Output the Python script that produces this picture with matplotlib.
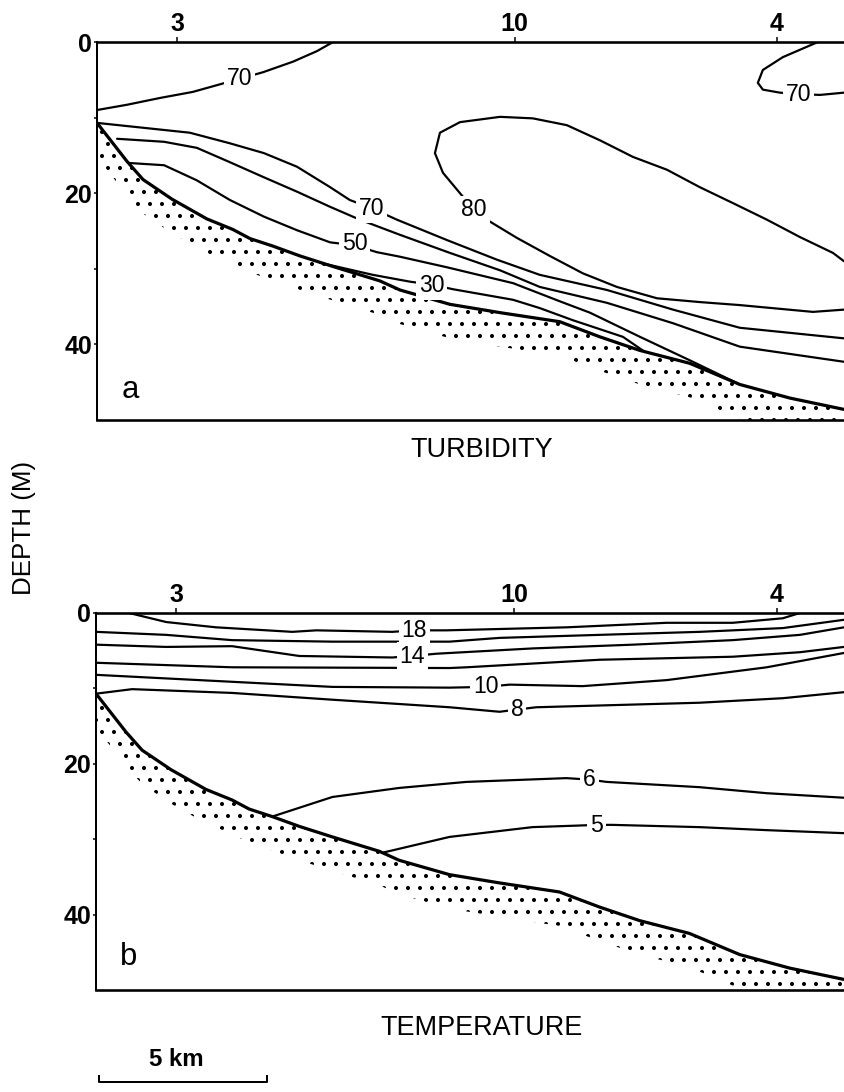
import matplotlib
matplotlib.use("Agg")
import matplotlib.pyplot as plt
import matplotlib.transforms as mtransforms

plt.rcParams['font.family'] = ['Liberation Sans', 'DejaVu Sans']
plt.rcParams['hatch.linewidth'] = 1.6
plt.rcParams['hatch.color'] = 'black'

# ---------------------------------------------------------------------------
# Section geometry: distance along the transect (km) and depth (m)
# ---------------------------------------------------------------------------
section_length_km = 22.37
depth_max_m = 50

station_km = [2.40, 12.51, 20.36]
station_labels = ["3", "10", "4"]

depth_ticks = [0, 20, 40]
depth_minor = [10, 30]

# sea-bed profile shared by both sections
seabed_km = [0.0, 0.90, 1.38, 2.25, 3.29, 4.07, 4.58, 5.27, 6.08, 7.07, 8.47,
             9.07, 10.57, 12.07, 13.86, 15.06, 16.26, 17.75, 19.25, 20.75, 22.37]
seabed_m = [10.7, 15.8, 18.2, 20.8, 23.4, 24.8, 26.0, 27.0, 28.3, 29.7, 31.6,
            32.8, 34.7, 35.8, 37.0, 39.0, 40.8, 42.5, 45.3, 47.1, 48.6]

# ---------------------------------------------------------------------------
# Turbidity (% transmission) isolines
# ---------------------------------------------------------------------------
turb70_surface_km = [0.0, 0.90, 1.89, 2.87, 3.68, 4.97, 5.87, 6.59, 7.07]
turb70_surface_m = [9.0, 8.3, 7.4, 6.6, 5.6, 4.0, 2.6, 1.2, 0.0]

turb70_east_km = [21.59, 20.54, 19.94, 19.79, 19.94, 20.45, 21.05, 21.65, 22.37]
turb70_east_m = [0.0, 2.0, 3.7, 5.4, 6.3, 6.7, 6.9, 7.0, 6.7]

turb80_km = [22.37, 22.04, 21.05, 20.06, 19.04, 18.05, 17.07, 16.05, 15.06,
             14.07, 13.05, 12.07, 10.87, 10.27, 10.12, 10.36, 10.87, 11.29,
             11.71, 12.57, 13.56, 14.55, 15.57, 16.77, 18.05, 19.25, 21.44, 22.37]
turb80_m = [29.0, 27.9, 25.8, 23.5, 21.3, 19.2, 16.9, 15.2, 13.0,
            11.0, 10.1, 9.9, 10.6, 12.0, 14.7, 17.3, 20.0, 22.2,
            23.6, 25.9, 28.3, 30.6, 32.4, 33.9, 34.4, 34.8, 35.7, 35.4]

turb70_km = [0.0, 1.50, 2.78, 3.98, 5.00, 5.99, 6.98, 7.57, 8.23, 8.98, 10.48,
             11.98, 13.26, 15.27, 17.25, 19.25, 22.37]
turb70_m = [10.7, 11.4, 12.0, 13.4, 14.7, 16.5, 19.2, 20.9, 22.0, 23.5, 26.2,
            28.8, 30.8, 32.8, 35.4, 37.8, 39.2]

turb60_km = [0.60, 2.01, 2.99, 3.98, 5.00, 5.99, 6.98, 7.87, 9.07, 10.57,
             12.07, 13.26, 15.27, 17.25, 19.25, 22.37]
turb60_m = [12.8, 13.2, 14.0, 15.9, 17.9, 19.8, 21.8, 23.5, 25.5, 27.9,
            30.2, 32.4, 34.5, 37.2, 40.3, 42.3]

turb50_km = [0.95, 2.01, 2.99, 3.98, 5.00, 5.99, 6.98, 7.72, 8.38, 9.07, 10.48,
             12.46, 13.86, 14.76, 16.26, 17.75, 19.25]
turb50_m = [16.0, 16.3, 18.3, 20.9, 23.1, 24.9, 26.5, 26.9, 27.8, 28.4, 29.8,
            31.9, 34.3, 35.8, 39.0, 42.1, 45.3]

turb30_km = [6.68, 8.26, 9.37, 10.03, 10.66, 12.46, 13.26, 14.25, 15.75, 16.41]
turb30_m = [29.2, 30.8, 31.7, 32.1, 32.7, 34.1, 35.2, 36.8, 39.0, 41.0]

turb_label_text = ["70", "70", "80", "70", "50", "30"]
turb_label_km = [4.28, 21.02, 11.29, 8.23, 7.72, 10.03]
turb_label_m = [4.8, 6.9, 22.2, 22.0, 26.7, 32.2]

# ---------------------------------------------------------------------------
# Temperature (deg C) isotherms
# ---------------------------------------------------------------------------
temp18_km = [0.99, 2.10, 3.59, 5.87, 6.59, 8.86, 9.52, 10.48, 14.07, 17.07,
             19.04, 20.54, 21.05]
temp18_m = [0.0, 1.2, 1.9, 2.5, 2.3, 2.5, 2.3, 2.3, 1.9, 1.3, 1.3, 0.7, 0.0]

temp16_km = [0.0, 2.10, 4.07, 7.07, 10.57, 12.07, 15.06, 18.05, 20.54, 22.37]
temp16_m = [2.5, 2.9, 3.6, 3.8, 3.8, 3.3, 2.9, 2.5, 2.0, 0.9]

temp14_km = [0.0, 2.10, 4.07, 6.08, 8.86, 9.46, 10.18, 13.05, 16.05, 19.04,
             21.05, 22.37]
temp14_m = [4.2, 4.5, 4.4, 5.7, 5.9, 5.7, 5.4, 4.7, 4.2, 3.6, 2.9, 1.9]

temp12_km = [0.0, 4.07, 10.57, 11.08, 15.06, 19.04, 21.05, 22.37]
temp12_m = [6.6, 7.2, 7.3, 7.2, 6.2, 5.8, 5.2, 4.5]

temp10_km = [0.0, 3.08, 7.07, 10.57, 11.65, 12.37, 14.55, 17.07, 20.06, 22.37]
temp10_m = [8.2, 8.9, 9.8, 9.9, 9.8, 9.5, 9.7, 8.9, 7.2, 5.3]

temp8_km = [0.0, 1.08, 4.07, 7.07, 10.57, 12.07, 12.60, 13.17, 18.05, 20.54, 22.37]
temp8_m = [10.7, 10.1, 10.6, 11.5, 12.5, 13.1, 12.8, 12.5, 11.9, 11.3, 10.5]

temp6_km = [5.27, 7.07, 9.07, 11.08, 14.07, 14.76, 15.27, 18.05, 20.06, 22.37]
temp6_m = [27.0, 24.4, 23.2, 22.4, 21.9, 22.1, 22.4, 23.1, 23.9, 24.5]

temp5_km = [8.56, 10.57, 13.05, 14.37, 14.97, 15.45, 18.05, 20.06, 22.37]
temp5_m = [31.8, 29.7, 28.4, 28.2, 28.1, 28.1, 28.4, 28.8, 29.2]

temp_label_text = ["18", "14", "10", "8", "6", "5"]
temp_label_km = [9.52, 9.46, 11.65, 12.60, 14.76, 14.97]
temp_label_m = [2.3, 5.8, 9.8, 12.8, 22.1, 28.2]

# ---------------------------------------------------------------------------
# Drawing helpers
# ---------------------------------------------------------------------------
DPI = 72
W, H = 844, 1092
SEDIMENT_THICKNESS_M = 4.5


def style_section(ax):
    ax.set_xlim(0, section_length_km)
    ax.set_ylim(depth_max_m, 0)
    ax.spines['right'].set_visible(False)
    ax.spines['top'].set_linewidth(2.6)
    ax.spines['bottom'].set_linewidth(2.6)
    ax.spines['left'].set_linewidth(2.0)
    ax.xaxis.tick_top()
    ax.set_xticks(station_km, station_labels)
    ax.tick_params(axis='x', which='both', direction='out', length=5,
                   width=1.5, pad=1, labelsize=25)
    ax.set_yticks(depth_ticks, [str(t) for t in depth_ticks])
    ax.set_yticks(depth_minor, minor=True)
    ax.tick_params(axis='y', which='both', direction='out', length=3,
                   width=1.5, pad=2, labelsize=25)
    for lbl in ax.get_xticklabels() + ax.get_yticklabels():
        lbl.set_fontweight('bold')


def draw_seabed(ax):
    lower = [d + SEDIMENT_THICKNESS_M for d in seabed_m]
    ax.fill_between(seabed_km, seabed_m, lower, facecolor='none',
                    edgecolor='black', hatch='.', linewidth=0, zorder=1)
    ax.plot(seabed_km, seabed_m, color='black', lw=3.2,
            solid_joinstyle='round', solid_capstyle='round', zorder=4)


def isoline(ax, xs, ys):
    ax.plot(xs, ys, color='black', lw=2.2, solid_joinstyle='round',
            solid_capstyle='round', zorder=3)


def isoline_labels(ax, xs, ys, texts):
    for x, y, t in zip(xs, ys, texts):
        ax.text(x, y, t, ha='center', va='center', fontsize=23, zorder=6,
                bbox=dict(boxstyle='square,pad=0.12', fc='white', ec='none'))


fig = plt.figure(figsize=(W / DPI, H / DPI), dpi=DPI)
fig.patch.set_facecolor('white')

ax_a = fig.add_axes([97 / W, 1 - 420 / H, 1 - 97 / W, 378 / H])
ax_b = fig.add_axes([96 / W, 1 - 990 / H, 1 - 96 / W, 377 / H])

# --- (a) turbidity ---
style_section(ax_a)
draw_seabed(ax_a)
for xs, ys in [(turb70_surface_km, turb70_surface_m),
               (turb70_east_km, turb70_east_m),
               (turb80_km, turb80_m),
               (turb70_km, turb70_m),
               (turb60_km, turb60_m),
               (turb50_km, turb50_m),
               (turb30_km, turb30_m)]:
    isoline(ax_a, xs, ys)
isoline_labels(ax_a, turb_label_km, turb_label_m, turb_label_text)
ax_a.text(0.99, 46.0, "a", ha='center', va='center', fontsize=31, zorder=6)

# --- (b) temperature ---
style_section(ax_b)
draw_seabed(ax_b)
for xs, ys in [(temp18_km, temp18_m), (temp16_km, temp16_m),
               (temp14_km, temp14_m), (temp12_km, temp12_m),
               (temp10_km, temp10_m), (temp8_km, temp8_m),
               (temp6_km, temp6_m), (temp5_km, temp5_m)]:
    isoline(ax_b, xs, ys)
isoline_labels(ax_b, temp_label_km, temp_label_m, temp_label_text)
ax_b.text(0.96, 45.6, "b", ha='center', va='center', fontsize=31, zorder=6)

# --- titles and shared depth label ---
fig.text(482 / W, 1 - 450 / H, "TURBIDITY", ha='center', va='center',
         fontsize=27)
fig.text(482 / W, 1 - 1028 / H, "TEMPERATURE", ha='center', va='center',
         fontsize=27)
fig.text(24 / W, 1 - 528 / H, "DEPTH (M)", rotation=90, ha='center',
         va='center', fontsize=26)

# --- 5 km scale bar under panel b ---
bar_start_km, bar_length_km = 0.1, 5.0
trans = mtransforms.blended_transform_factory(ax_b.transData, fig.transFigure)
y_bar = 1 - 1082 / H
tick_h = 6 / H
bx = [bar_start_km, bar_start_km, bar_start_km + bar_length_km,
      bar_start_km + bar_length_km]
by = [y_bar + tick_h, y_bar, y_bar, y_bar + tick_h]
fig.lines.append(plt.Line2D(bx, by, transform=trans, color='black', lw=2.0))
fig.text(bar_start_km + bar_length_km / 2 - 0.2, 1 - 1060 / H, "5 km",
         transform=trans, ha='center', va='center', fontsize=24,
         fontweight='bold')

fig.savefig("out.png", dpi=DPI, facecolor='white')
